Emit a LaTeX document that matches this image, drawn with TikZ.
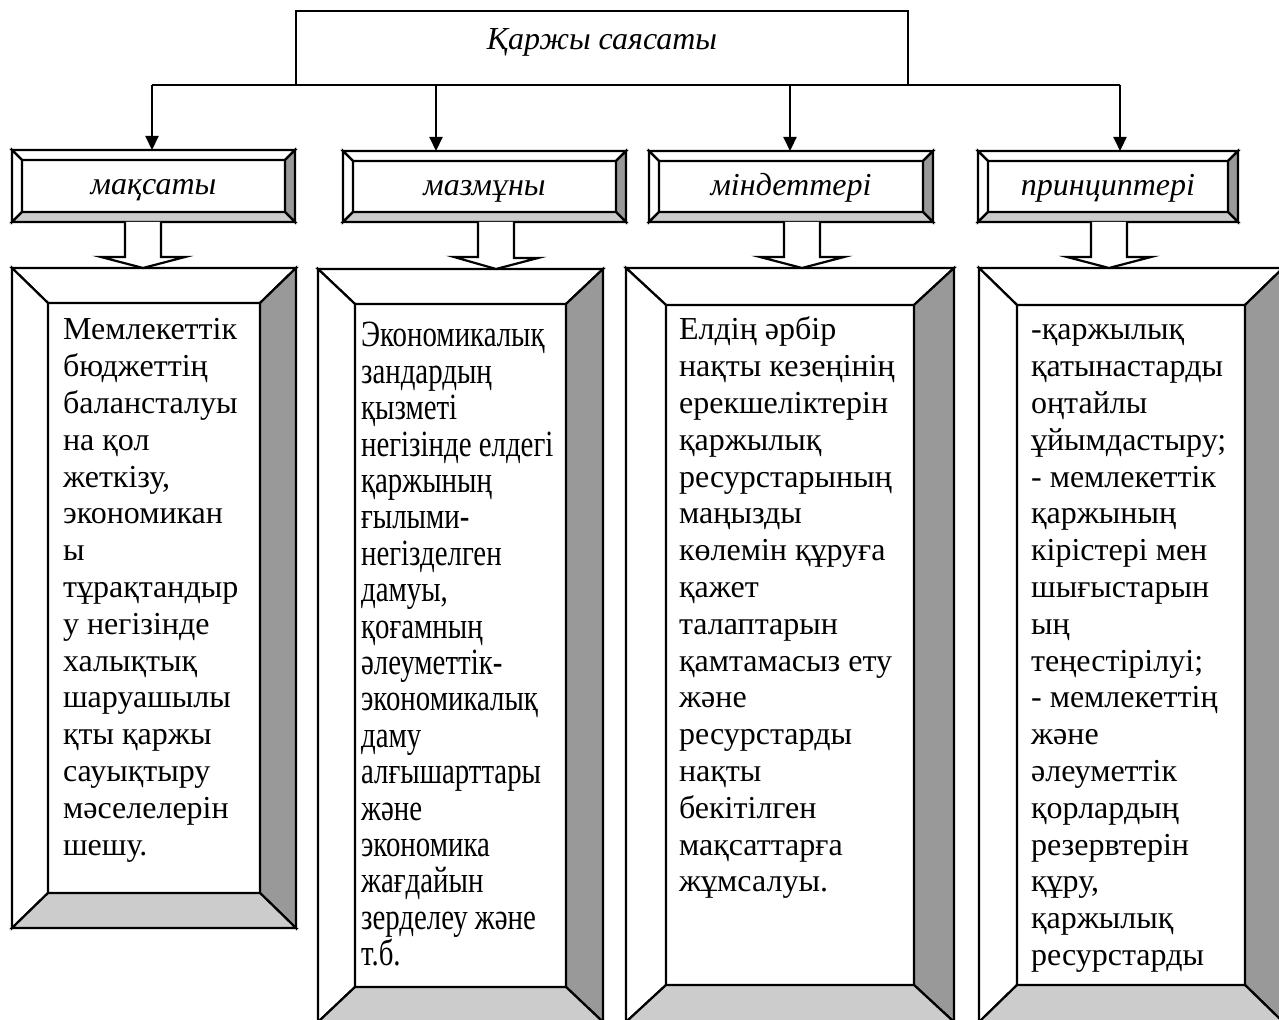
\documentclass[tikz,border=0pt]{standalone}
\usepackage{fontspec}
\setmainfont{Liberation Serif}
\newfontfamily\narrowserif[FakeStretch=0.78]{Liberation Serif}
\usetikzlibrary{arrows.meta,calc}

\definecolor{bevdark}{HTML}{999999}
\definecolor{bevlight}{HTML}{CCCCCC}

\tikzset{
  frame/.style={draw, fill=white, inner sep=0pt, outer sep=0pt, anchor=north west},
  hdrtext/.style={font=\fontsize{16}{18.4}\selectfont\itshape, inner sep=0pt, anchor=base},
  bodytext/.style={anchor=base west, align=flush left, inner sep=0pt,
    font=\fontsize{16}{18.4}\selectfont},
  downarrow/.style={-{Triangle[length=7pt,width=6.5pt]}},
  hollow/.style={draw, fill=white, line join=miter}
}

% framed box with bevelled border: node, side width, top/bottom width
\newcommand\bevel[3]{%
  \coordinate (#1-a) at ($(#1.north west)+(#2,#3)$);
  \coordinate (#1-b) at ($(#1.north east)+(-#2,#3)$);
  \coordinate (#1-c) at ($(#1.south east)+(-#2,-#3)$);
  \coordinate (#1-d) at ($(#1.south west)+(#2,-#3)$);
  \filldraw[fill=white] (#1.north west) -- (#1.north east) -- (#1-b) -- (#1-a) -- cycle;
  \filldraw[fill=white] (#1.north west) -- (#1-a) -- (#1-d) -- (#1.south west) -- cycle;
  \filldraw[fill=bevdark] (#1.north east) -- (#1-b) -- (#1-c) -- (#1.south east) -- cycle;
  \filldraw[fill=bevlight] (#1.south west) -- (#1-d) -- (#1-c) -- (#1.south east) -- cycle;
  \draw (#1-a) rectangle (#1-c);
}

\begin{document}
\begin{tikzpicture}[x=0.5pt,y=-0.5pt,line width=1.1pt]
\useasboundingbox (0,0) rectangle (1279,1020);

% top
\node[frame, minimum width=306pt, minimum height=37pt] (top) at (296,11) {};
\node[hdrtext] (topt) at ($(top.center)+(0,2)$) {Қаржы саясаты};

% headers
\node[frame, minimum width=141.5pt, minimum height=36pt] (h1) at (12,150) {};
\node[frame, minimum width=141.5pt, minimum height=35.5pt] (h2) at (343,151) {};
\node[frame, minimum width=142pt, minimum height=35.5pt] (h3) at (649,151) {};
\node[frame, minimum width=130pt, minimum height=35.5pt] (h4) at (978,151) {};
\foreach \n in {h1,h2,h3,h4} {\bevel{\n}{10}{10}}
\node[hdrtext] (h1t) at ($(h1.center)+(0,9)$) {мақсаты};
\node[hdrtext] (h2t) at ($(h2.center)+(0,9)$) {мазмұны};
\node[hdrtext] (h3t) at ($(h3.center)+(0,9)$) {міндеттері};
\node[hdrtext] (h4t) at ($(h4.center)+(0,9)$) {принциптері};

% bus
\coordinate (j1) at (152,85);
\coordinate (j2) at (436,85);
\coordinate (j3) at (790,85);
\coordinate (j4) at (1120,85);
\draw (j1) -- (j4);
\foreach \j/\h in {j1/h1,j2/h2,j3/h3,j4/h4}
  \draw[downarrow] (\j) -- (\j |- \h.north);

% big boxes
\node[frame, minimum width=142pt, minimum height=330pt] (b1) at (12,268) {};
\node[frame, minimum width=142.5pt, minimum height=376.5pt] (b2) at (318,269) {};
\node[frame, minimum width=164pt, minimum height=377pt] (b3) at (626,268) {};
\node[frame, minimum width=152pt, minimum height=377pt] (b4) at (979,268) {};
\bevel{b1}{36}{35}
\bevel{b2}{37}{35}
\bevel{b3}{40}{37}
\bevel{b4}{38}{37}

% hollow arrows
\foreach \h/\b/\cx in {h1/b1/143,h2/b2/496,h3/b3/802,h4/b4/1109} {
  \coordinate (ac) at (\cx,0);
  \draw[hollow] ($(ac |- \h.south)+(-18,0)$) -- ++(0,35) -- ++(-24,0)
    -- (ac |- \b.north) -- ++(42,-11) -- ++(-24,0) -- ($(ac |- \h.south)+(18,0)$);
}

% texts
\node[bodytext, text width=100pt] (t1) at (62,340) {Мемлекеттік\\
бюджеттің\\
балансталуы\\
на қол\\
жеткізу,\\
экономикан\\
ы\\
тұрақтандыр\\
у негізінде\\
халықтық\\
шаруашылы\\
қты қаржы\\
сауықтыру\\
мәселелерін\\
шешу.};
\node[bodytext, text width=104pt, font=\narrowserif\fontsize{18.5}{18.2}\selectfont] (t2) at (360,347) {Экономикалық\\
зандардың\\
қызметі\\
негізінде елдегі\\
қаржының\\
ғылыми-\\
негізделген\\
дамуы,\\
қоғамның\\
әлеуметтік-\\
экономикалық\\
даму\\
алғышарттары\\
және\\
экономика\\
жағдайын\\
зерделеу және\\
т.б.};
\node[bodytext, text width=118pt] (t3) at (678,340) {Елдің әрбір\\
нақты кезеңінің\\
ерекшеліктерін\\
қаржылық\\
ресурстарының\\
маңызды\\
көлемін құруға\\
қажет\\
талаптарын\\
қамтамасыз ету\\
және\\
ресурстарды\\
нақты\\
бекітілген\\
мақсаттарға\\
жұмсалуы.};
\node[bodytext, text width=108pt] (t4) at (1030,340) {-қаржылық\\
қатынастарды\\
оңтайлы\\
ұйымдастыру;\\
- мемлекеттік\\
қаржының\\
кірістері мен\\
шығыстарын\\
ың\\
теңестірілуі;\\
- мемлекеттің\\
және\\
әлеуметтік\\
қорлардың\\
резервтерін\\
құру,\\
қаржылық\\
ресурстарды};
\end{tikzpicture}
\end{document}
